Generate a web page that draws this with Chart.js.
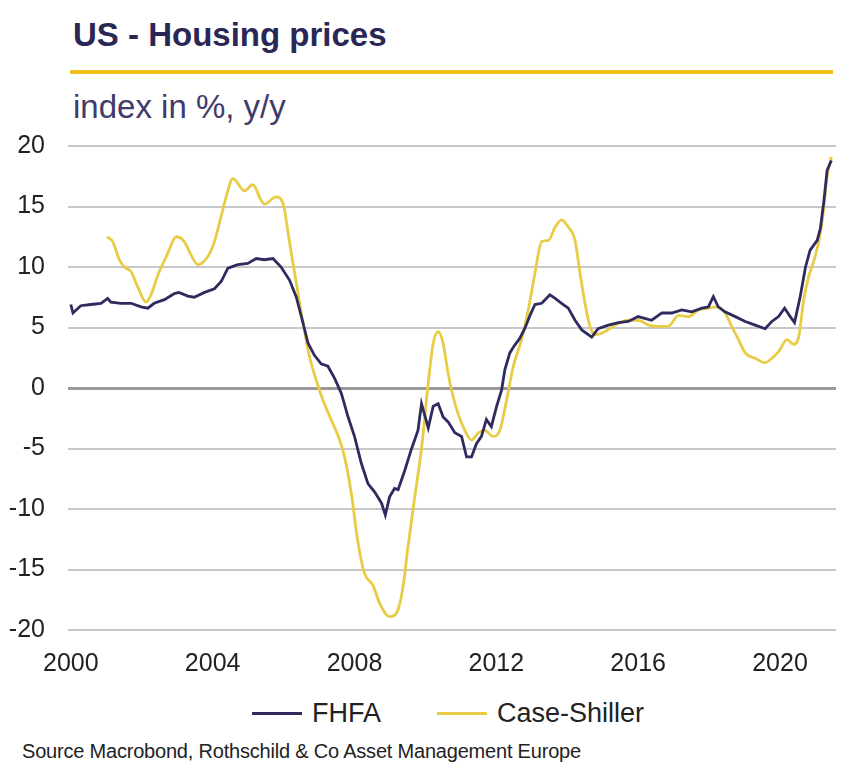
<!DOCTYPE html>
<html>
<head>
<meta charset="utf-8">
<title>US - Housing prices</title>
<script src="https://cdn.jsdelivr.net/npm/chart.js@4.4.1/dist/chart.umd.min.js"></script>
<style>
  html, body { margin: 0; padding: 0; background: #fff; overflow: hidden; }
  #page { position: relative; width: 864px; height: 773px; overflow: hidden; font-family: "Liberation Sans", Arial, sans-serif; }
  .title { position: absolute; left: 73px; top: 18px; font-size: 33px; line-height: 1; font-weight: bold; color: #2a2756; white-space: nowrap; }
  .rule { position: absolute; left: 70px; top: 70px; width: 763px; height: 4px; background: #f0c31c; }
  .subtitle { position: absolute; left: 73px; top: 90px; font-size: 33px; line-height: 1; color: #403b6b; white-space: nowrap; }
  .source { position: absolute; left: 22px; top: 741px; font-size: 20px; line-height: 1; color: #222; letter-spacing: -0.2px; white-space: nowrap; }
  #chartBox { position: absolute; left: 0; top: 108px; width: 864px; height: 572px; }
  #legend { position: absolute; left: 0; top: 700px; width: 864px; height: 30px; }
  .legend-item { position: absolute; top: 0; height: 27px; }
  .legend-line { position: absolute; left: 0; top: 12px; width: 50px; height: 3px; }
  .legend-text { position: absolute; left: 60px; top: 0; font-size: 27px; line-height: 1; color: #222; white-space: nowrap; }
</style>
</head>
<body>
<div id="page">
  <div class="title">US - Housing prices</div>
  <div class="rule"></div>
  <div class="subtitle">index in %, y/y</div>
  <div id="chartBox"><canvas id="housingChart"></canvas></div>
  <div id="legend"></div>
  <div class="source">Source Macrobond, Rothschild &amp; Co Asset Management Europe</div>
</div>

<script>
// FHFA house price index, % y/y (dates in decimal years)
const fhfaDates = [
  2000.00, 2000.06, 2000.28, 2000.56, 2000.85, 2001.04, 2001.13, 2001.41, 2001.70, 2001.98,
  2002.17, 2002.35, 2002.64, 2002.92, 2003.05, 2003.30, 2003.48, 2003.77, 2004.05, 2004.24,
  2004.43, 2004.71, 2004.99, 2005.23, 2005.46, 2005.70, 2005.93, 2006.17, 2006.36, 2006.55,
  2006.69, 2006.87, 2007.06, 2007.25, 2007.44, 2007.63, 2007.82, 2008.00, 2008.19, 2008.38,
  2008.57, 2008.76, 2008.87, 2008.99, 2009.13, 2009.23, 2009.42, 2009.60, 2009.79, 2009.89,
  2010.08, 2010.22, 2010.36, 2010.50, 2010.64, 2010.83, 2011.02, 2011.16, 2011.30, 2011.44,
  2011.58, 2011.72, 2011.86, 2012.01, 2012.15, 2012.24, 2012.38, 2012.52, 2012.66, 2012.80,
  2012.95, 2013.09, 2013.28, 2013.51, 2013.66, 2013.84, 2014.03, 2014.22, 2014.41, 2014.69,
  2014.87, 2015.16, 2015.44, 2015.72, 2016.00, 2016.38, 2016.67, 2016.95, 2017.23, 2017.51,
  2017.80, 2017.98, 2018.12, 2018.26, 2018.45, 2018.74, 2019.02, 2019.30, 2019.58, 2019.77,
  2019.96, 2020.13, 2020.29, 2020.41, 2020.57, 2020.72, 2020.85, 2021.05, 2021.14, 2021.24,
  2021.33, 2021.45
];
const fhfaValues = [
  6.9, 6.2, 6.8, 6.9, 7.0, 7.4, 7.1, 7.0, 7.0, 6.7,
  6.6, 7.0, 7.3, 7.8, 7.9, 7.6, 7.5, 7.9, 8.2, 8.8,
  9.9, 10.2, 10.3, 10.7, 10.6, 10.7, 10.0, 8.9, 7.5, 5.35,
  3.7, 2.7, 2.0, 1.8, 0.8, -0.45, -2.4, -4.0, -6.2, -7.9,
  -8.6, -9.5, -10.5, -9.0, -8.3, -8.4, -6.8, -5.1, -3.5, -1.3,
  -3.3, -1.5, -1.3, -2.4, -2.8, -3.7, -4.0, -5.7, -5.7, -4.6,
  -4.0, -2.6, -3.2, -1.5, -0.15, 1.5, 2.9, 3.55, 4.1, 4.9,
  6.0, 6.9, 7.0, 7.7, 7.4, 7.0, 6.6, 5.6, 4.8, 4.2,
  4.9, 5.2, 5.4, 5.5, 5.9, 5.6, 6.2, 6.2, 6.45, 6.3,
  6.6, 6.7, 7.55, 6.7, 6.3, 5.9, 5.5, 5.2, 4.9, 5.5,
  5.9, 6.6, 5.9, 5.4, 7.55, 10.0, 11.4, 12.2, 13.2, 15.5,
  18.0, 18.8
];

// Case-Shiller index, % y/y
const csDates = [
  2001.02, 2001.18, 2001.37, 2001.51, 2001.70, 2001.88, 2002.12, 2002.26, 2002.45, 2002.73,
  2002.97, 2003.20, 2003.39, 2003.58, 2003.86, 2004.05, 2004.24, 2004.38, 2004.57, 2004.90,
  2005.13, 2005.37, 2005.46, 2005.79, 2005.98, 2006.17, 2006.36, 2006.55, 2006.73, 2006.92,
  2007.11, 2007.34, 2007.58, 2007.72, 2007.91, 2008.10, 2008.28, 2008.52, 2008.71, 2008.99,
  2009.23, 2009.37, 2009.51, 2009.70, 2009.89, 2010.08, 2010.22, 2010.36, 2010.50, 2010.64,
  2010.78, 2010.92, 2011.11, 2011.30, 2011.49, 2011.67, 2011.91, 2012.10, 2012.29, 2012.48,
  2012.71, 2012.90, 2013.09, 2013.28, 2013.47, 2013.66, 2013.84, 2014.03, 2014.22, 2014.36,
  2014.50, 2014.64, 2014.78, 2015.06, 2015.35, 2015.72, 2016.00, 2016.29, 2016.57, 2016.85,
  2017.14, 2017.42, 2017.70, 2017.98, 2018.22, 2018.45, 2018.64, 2018.83, 2019.02, 2019.30,
  2019.58, 2019.77, 2019.96, 2020.20, 2020.39, 2020.53, 2020.67, 2020.81, 2020.99, 2021.14,
  2021.24, 2021.33, 2021.45
];
const csValues = [
  12.5, 12.1, 10.6, 10.0, 9.6, 8.4, 7.1, 7.7, 9.3, 11.1,
  12.5, 12.1, 11.0, 10.2, 10.85, 12.1, 14.2, 15.8, 17.3, 16.3,
  16.8, 15.5, 15.2, 15.8, 15.3, 12.0, 8.65, 5.35, 2.6, 0.66,
  -1.0, -2.6, -4.3, -5.7, -8.7, -12.8, -15.3, -16.3, -17.8, -18.9,
  -18.3, -16.4, -13.1, -9.0, -5.0, 0.4, 3.7, 4.65, 3.7, 1.2,
  -0.7, -2.1, -3.5, -4.3, -3.7, -3.5, -4.0, -3.5, -1.0, 1.8,
  4.0, 6.45, 9.5, 12.1, 12.2, 13.3, 13.9, 13.3, 12.2, 9.5,
  7.0, 5.1, 4.4, 4.65, 5.2, 5.6, 5.6, 5.2, 5.1, 5.1,
  6.0, 5.9, 6.45, 6.6, 6.7, 6.2, 5.1, 4.0, 2.9, 2.45,
  2.1, 2.45, 3.0, 4.0, 3.6, 4.25, 7.3, 9.2, 10.85, 12.8,
  15.0, 17.5, 19.1
];

// axis ticks
const xTickYears = [2000, 2004, 2008, 2012, 2016, 2020];
const yTickValues = [-20, -15, -10, -5, 0, 5, 10, 15, 20];

const navy = '#2f2b5f';
const yellow = '#e8cc45';
const tickFont = { family: '"Liberation Sans", Arial, sans-serif', size: 25 };

function toPoints(dates, values) {
  return dates.map((d, i) => ({ x: d, y: values[i] }));
}

const ctx = document.getElementById('housingChart').getContext('2d');

const chart = new Chart(ctx, {
  type: 'line',
  data: {
    datasets: [
      {
        label: 'FHFA',
        data: toPoints(fhfaDates, fhfaValues),
        borderColor: navy,
        backgroundColor: navy,
        borderWidth: 2.8,
        pointRadius: 0,
        tension: 0
      },
      {
        label: 'Case-Shiller',
        data: toPoints(csDates, csValues),
        borderColor: yellow,
        backgroundColor: yellow,
        borderWidth: 2.8,
        pointRadius: 0,
        cubicInterpolationMode: 'monotone'
      }
    ]
  },
  options: {
    responsive: true,
    maintainAspectRatio: false,
    animation: false,
    layout: {
      // chart.js keeps room above for the top y label anyway
      padding: { top: 2, left: 0, right: 28, bottom: 0 }
    },
    plugins: {
      tooltip: { enabled: false },
      legend: { display: false }
    },
    scales: {
      x: {
        type: 'linear',
        min: 1999.92,
        max: 2021.58,
        afterFit: (scale) => { scale.height = 50 },
        afterBuildTicks: (scale) => { scale.ticks = xTickYears.map(v => ({ value: v })) },
        grid: { display: false, drawTicks: false },
        border: { display: false },
        ticks: {
          padding: 19,
          maxRotation: 0,
          color: '#222',
          font: tickFont,
          callback: (v) => String(v)
        }
      },
      y: {
        min: -20,
        max: 20,
        afterFit: (scale) => { scale.width = 68 },
        afterBuildTicks: (scale) => { scale.ticks = yTickValues.map(v => ({ value: v })) },
        border: { display: false },
        grid: {
          drawTicks: false,
          color: (c) => c.tick && c.tick.value === 0 ? '#9a9a9a' : '#c8c8c8',
          lineWidth: (c) => c.tick && c.tick.value === 0 ? 3 : 2
        },
        ticks: {
          padding: 23,
          color: '#222',
          font: tickFont
        }
      }
    }
  }
});

// html legend, built from the chart's own legend items
const legendLeft = [252, 437];
const legendBox = document.getElementById('legend');
chart.options.plugins.legend.labels.generateLabels(chart).forEach((item, i) => {
  const el = document.createElement('div');
  el.className = 'legend-item';
  el.style.left = legendLeft[i] + 'px';
  const line = document.createElement('div');
  line.className = 'legend-line';
  line.style.background = item.strokeStyle;
  const text = document.createElement('div');
  text.className = 'legend-text';
  text.textContent = item.text;
  el.appendChild(line);
  el.appendChild(text);
  legendBox.appendChild(el);
});
</script>
</body>
</html>
